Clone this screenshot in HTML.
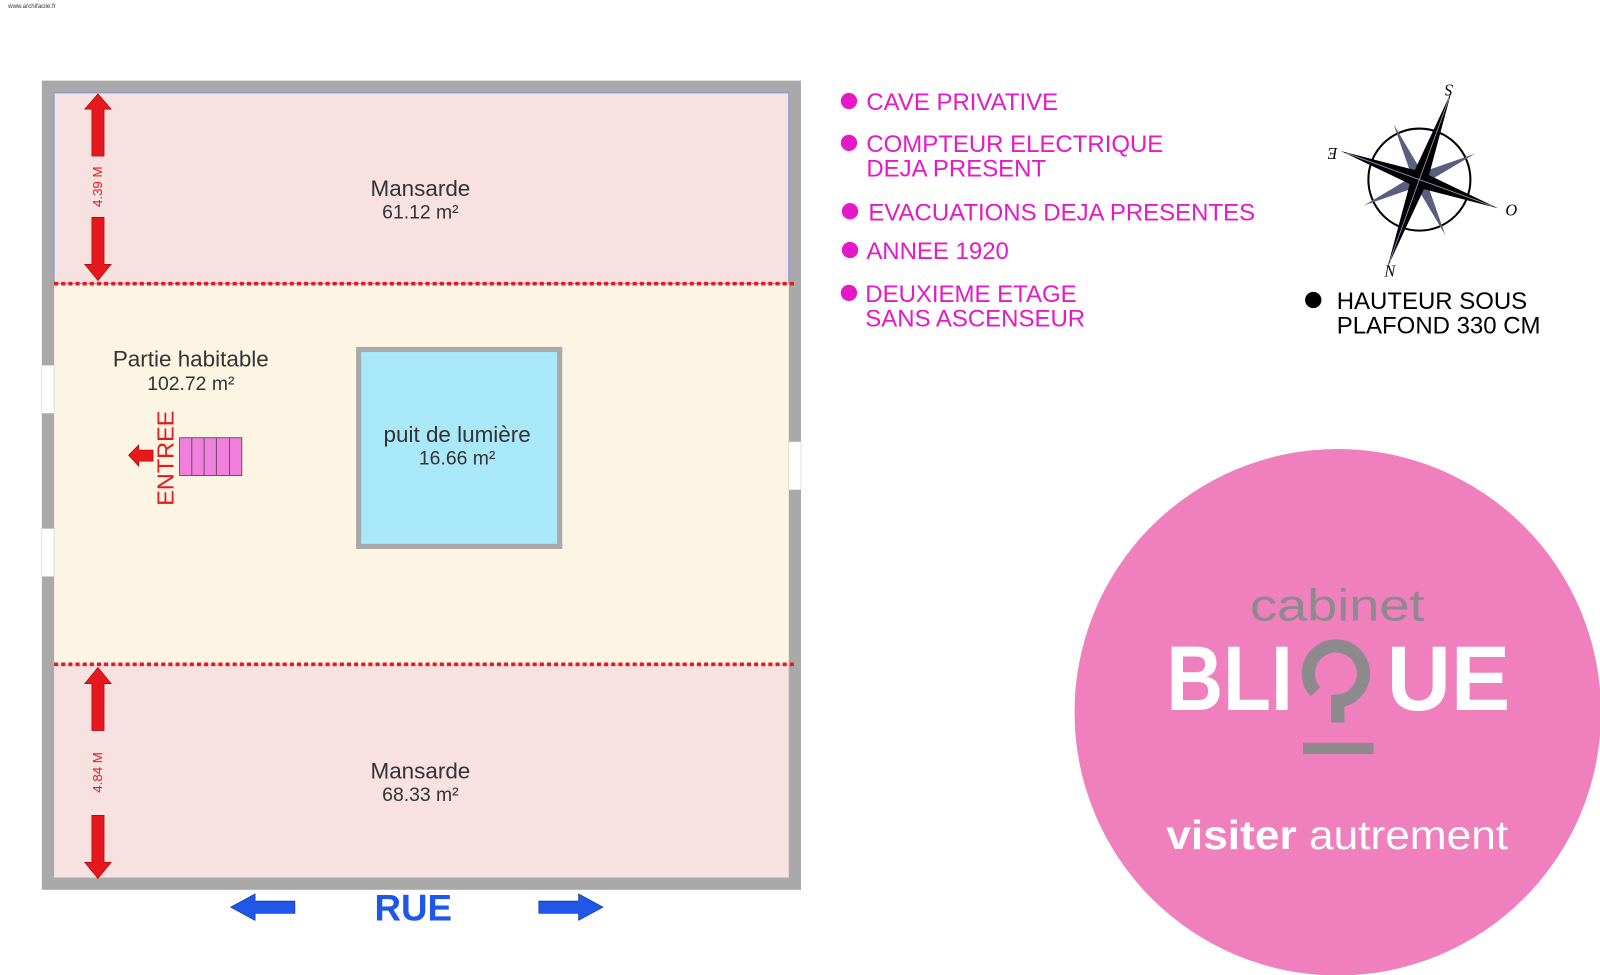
<!DOCTYPE html>
<html><head><meta charset="utf-8"><style>
body{margin:0;background:#fff;}
svg{display:block;font-family:"Liberation Sans",Arial,sans-serif;}
</style></head><body>
<svg width="1600" height="975" viewBox="0 0 1568 955.5" preserveAspectRatio="none">
<text x="8" y="8" font-size="6" fill="#333">www.archifacile.fr</text>
<rect x="41" y="79" width="744" height="793" fill="#a9a9a9"/>
<rect x="53" y="91" width="720" height="187" fill="#f8e1e1"/>
<rect x="53" y="278" width="720" height="373" fill="#fcf5e3"/>
<rect x="53" y="651" width="720" height="209" fill="#f8e1e1"/>
<rect x="53" y="91" width="720" height="187" fill="none" stroke="#7a9ad8" stroke-width="1"/>
<g fill="#fff" stroke="#ccc" stroke-width="0.6">
<rect x="41" y="358" width="12" height="47"/>
<rect x="41" y="518" width="12" height="47"/>
<rect x="773" y="433" width="12" height="47"/>
</g>
<line x1="53" y1="278" x2="779" y2="278" stroke="#e5191d" stroke-width="3.5" stroke-dasharray="4,3"/>
<line x1="53" y1="651" x2="779" y2="651" stroke="#e5191d" stroke-width="3.5" stroke-dasharray="4,3"/>
<g fill="#e5191d" stroke="#a00" stroke-width="0.6">
<polygon points="96,92 83,107 90,107 90,153 102,153 102,107 109,107"/>
<polygon points="96,275 83,259 90,259 90,213 102,213 102,259 109,259"/>
<polygon points="96,654 83,670 90,670 90,716 102,716 102,670 109,670"/>
<polygon points="96,861 83,845 90,845 90,799 102,799 102,845 109,845"/>
<polygon points="126,446 136,436 136,441 150,441 150,452 136,452 136,457"/>
</g>
<text transform="translate(100,183) rotate(-90)" text-anchor="middle" font-size="13" fill="#e5191d">4.39 M</text>
<text transform="translate(100,757) rotate(-90)" text-anchor="middle" font-size="13" fill="#e5191d">4.84 M</text>
<text transform="translate(170,449) rotate(-90)" text-anchor="middle" font-size="23" fill="#e5191d">ENTREE</text>
<rect x="176" y="429" width="61" height="37" fill="#f07fdd" stroke="#444" stroke-width="0.8"/>
<g stroke="#444" stroke-width="0.8"><line x1="188" y1="429" x2="188" y2="466"/><line x1="200" y1="429" x2="200" y2="466"/><line x1="212" y1="429" x2="212" y2="466"/><line x1="225" y1="429" x2="225" y2="466"/></g>
<rect x="349" y="340" width="202" height="198" fill="#a9a9a9"/>
<rect x="354" y="345" width="192" height="188" fill="#a8e8f8"/>
<g fill="#333" text-anchor="middle">
<text x="412" y="192" font-size="22">Mansarde</text>
<text x="412" y="214" font-size="19">61.12 m²</text>
<text x="187" y="359" font-size="22">Partie habitable</text>
<text x="187" y="382" font-size="19">102.72 m²</text>
<text x="448" y="433" font-size="22">puit de lumière</text>
<text x="448" y="455" font-size="19">16.66 m²</text>
<text x="412" y="763" font-size="22">Mansarde</text>
<text x="412" y="785" font-size="19">68.33 m²</text>
</g>
<g fill="#1f57e8" stroke="#0a2a90" stroke-width="0.6">
<polygon points="226,889 250,876 250,883 289,883 289,895 250,895 250,902"/>
<polygon points="591,889 567,876 567,883 528,883 528,895 567,895 567,902"/>
</g>
<text x="405" y="902" text-anchor="middle" font-size="36" font-weight="bold" fill="#1f57e8">RUE</text>
<g fill="#e619c8">
<circle cx="832" cy="99" r="8"/><circle cx="832" cy="140" r="8"/><circle cx="833" cy="207" r="8"/><circle cx="833" cy="245" r="8"/><circle cx="832" cy="287" r="8"/>
</g>
<g fill="#e619c8" font-size="23.5">
<text x="849" y="108">CAVE PRIVATIVE</text>
<text x="849" y="149">COMPTEUR ELECTRIQUE</text>
<text x="849" y="173">DEJA PRESENT</text>
<text x="851" y="216">EVACUATIONS DEJA PRESENTES</text>
<text x="849" y="254">ANNEE 1920</text>
<text x="848" y="296">DEUXIEME ETAGE</text>
<text x="848" y="320">SANS ASCENSEUR</text>
</g>
<circle cx="1287" cy="294" r="8" fill="#000"/>
<text x="1310" y="303" font-size="23.5" fill="#000">HAUTEUR SOUS</text>
<text x="1310" y="327" font-size="23.5" fill="#000">PLAFOND 330 CM</text>
<g transform="translate(1391,176)">
<circle r="50" fill="none" stroke="#000" stroke-width="2"/>
<g transform="rotate(20)">
<g fill="#5a5f80">
<polygon points="0,-60 6,0 0,6 -6,0" transform="rotate(45)"/>
<polygon points="0,-60 6,0 0,6 -6,0" transform="rotate(135)"/>
<polygon points="0,-60 6,0 0,6 -6,0" transform="rotate(225)"/>
<polygon points="0,-60 6,0 0,6 -6,0" transform="rotate(315)"/>
</g>
<g fill="#000">
<polygon points="0,-92 8,0 0,8 -8,0"/>
<polygon points="0,92 8,0 0,-8 -8,0"/>
<polygon points="-82,0 0,8 8,0 0,-8"/>
<polygon points="82,0 0,8 -8,0 0,-8"/>
</g>
<g stroke="#9aa0c8" stroke-width="0.8"><line x1="0" y1="-85" x2="0" y2="85"/><line x1="-76" y1="0" x2="76" y2="0"/></g>
</g>
</g>
<g font-family="Liberation Serif,serif" font-style="italic" font-size="16" fill="#000" text-anchor="middle">
<text x="1420" y="93" transform="rotate(180 1420 88)">S</text>
<text x="1306" y="155" transform="rotate(180 1306 150)">E</text>
<text x="1481" y="211">O</text>
<text x="1362" y="271">N</text>
</g>
<circle cx="1311" cy="698" r="258" fill="#f07fbd"/>
<text x="1225" y="608" font-size="44" fill="#8c8a8d" textLength="171" lengthAdjust="spacingAndGlyphs">cabinet</text>
<text x="1143" y="696" font-size="90" font-weight="bold" fill="#fff" textLength="124" lengthAdjust="spacingAndGlyphs">BLI</text>
<text x="1359" y="696" font-size="90" font-weight="bold" fill="#fff" textLength="121" lengthAdjust="spacingAndGlyphs">UE</text>
<path d="M1289,678 A27,27 0 1 1 1311,687 L1311,708" fill="none" stroke="#8c8a8d" stroke-width="13"/>
<rect x="1277" y="728" width="69" height="11" fill="#8c8a8d"/>
<text x="1143" y="832" font-size="40" fill="#fff" textLength="335" lengthAdjust="spacingAndGlyphs"><tspan font-weight="bold">visiter</tspan> autrement</text>
</svg>
</body></html>
